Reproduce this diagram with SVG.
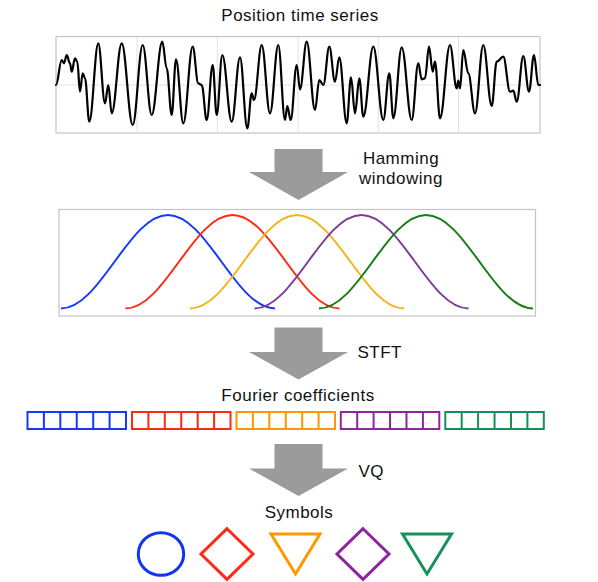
<svg xmlns="http://www.w3.org/2000/svg" xmlns:xlink="http://www.w3.org/1999/xlink" width="598" height="582" viewBox="0 0 598 582">
<style>
text{font-family:"Liberation Sans",Arial,Helvetica,sans-serif;font-size:17px;fill:#111;letter-spacing:0.5px}
.frame{fill:#fff;stroke:#c4c4c4;stroke-width:1.2}
.grid{stroke:#e2e2e2;stroke-width:1;fill:none}
.sig{fill:none;stroke:#000;stroke-width:2.2;stroke-linejoin:round;stroke-linecap:round}
.win{fill:none;stroke-width:2}
.arrow{fill:#9b9b9b}
.cells{fill:none;stroke:currentColor;stroke-width:2}
.sym{fill:none;stroke-width:3}
</style>
<defs>
<g id="cellrow" class="cells">
<rect x="0" y="0" width="98.5" height="17"/>
<path d="M16.4,0V17M32.8,0V17M49.25,0V17M65.7,0V17M82.1,0V17"/>
</g>
</defs>

<g id="title"><text x="300" y="21" text-anchor="middle">Position time series</text></g>

<g id="timeseries">
<rect class="frame" x="56" y="36.5" width="484" height="96.5"/>
<path class="grid" d="M137,37V133M217.3,37V133M298,37V133M378.3,37V133M458.5,37V133M56,85H540"/>
<path class="sig" d="M56,85 C58.2,85 59.5,60 61.7,60 C62.6,60 63.1,63.3 64,63.3 C65,63.3 65.7,55 66.7,55 C68,55 68.7,63.3 70,63.3 C70.6,63.3 71.1,71.7 71.7,71.7 C73,71.7 73.7,58.3 75,58.3 C75.9,58.3 76.4,61.7 77.3,61.7 C78.3,61.7 79,91.7 80,91.7 C81,91.7 81.7,73.3 82.7,73.3 C83.6,73.3 84.1,78.3 85,78.3 C86.6,78.3 87.7,121.7 89.3,121.7 C92.7,121.7 94.9,43.3 98.3,43.3 C100.8,43.3 102.5,103.3 105,103.3 C106.3,103.3 107,85 108.3,85 C109.6,85 110.4,113.3 111.7,113.3 C115.5,113.3 117.9,43.3 121.7,43.3 C125.9,43.3 128.5,125 132.7,125 C136.5,125 138.9,45 142.7,45 C146.1,45 148.3,115 151.7,115 C155.7,115 158.3,41.7 162.3,41.7 C164,41.7 165,68.3 166.7,68.3 C168.6,68.3 169.8,115 171.7,115 C173.3,115 174.4,59.3 176,59.3 C178.8,59.3 180.5,123.3 183.3,123.3 C186.9,123.3 189.1,46.7 192.7,46.7 C194.8,46.7 196.2,83.3 198.3,83.3 C199.6,83.3 200.4,85 201.7,85 C203.6,85 204.8,120 206.7,120 C209,120 210.4,65 212.7,65 C214.2,65 215.2,115 216.7,115 C218.8,115 220.2,55 222.3,55 C225.9,55 228.1,121.7 231.7,121.7 C234.9,121.7 236.8,57.3 240,57.3 C242.8,57.3 244.5,128.3 247.3,128.3 C249,128.3 250,93.3 251.7,93.3 C252.6,93.3 253.1,100 254,100 C256.9,100 258.8,45 261.7,45 C264.9,45 266.8,113.3 270,113.3 C273.2,113.3 275.1,45 278.3,45 C280.8,45 282.5,120 285,120 C285.9,120 286.4,106 287.3,106 C288.6,106 289.4,120 290.7,120 C293,120 294.4,65 296.7,65 C298,65 298.7,89.3 300,89.3 C302.5,89.3 304.2,41.7 306.7,41.7 C309.9,41.7 311.8,110 315,110 C316.6,110 317.7,80 319.3,80 C320.8,80 321.8,85 323.3,85 C325.6,85 327,46.7 329.3,46.7 C331.5,46.7 332.8,81.7 335,81.7 C336.6,81.7 337.7,57.3 339.3,57.3 C342.1,57.3 343.9,123.3 346.7,123.3 C348.3,123.3 349.4,77.3 351,77.3 C352.5,77.3 353.5,113.3 355,113.3 C356.6,113.3 357.7,78.3 359.3,78.3 C360.8,78.3 361.8,116.7 363.3,116.7 C367.1,116.7 369.5,46.7 373.3,46.7 C377.1,46.7 379.5,120 383.3,120 C385.6,120 387,73.3 389.3,73.3 C390.8,73.3 391.8,118.3 393.3,118.3 C396.5,118.3 398.5,47.3 401.7,47.3 C405.5,47.3 407.9,120 411.7,120 C414.2,120 415.8,63.3 418.3,63.3 C419.6,63.3 420.4,79.3 421.7,79.3 C423,79.3 423.7,78.3 425,78.3 C426.5,78.3 427.5,46.7 429,46.7 C430.4,46.7 431.3,71.7 432.7,71.7 C433.6,71.7 434.1,61.7 435,61.7 C436.9,61.7 438.1,118.3 440,118.3 C443.8,118.3 446.2,45 450,45 C452.5,45 454.2,88.3 456.7,88.3 C457.3,88.3 457.7,80.7 458.3,80.7 C458.9,80.7 459.4,88.3 460,88.3 C461.3,88.3 462,50 463.3,50 C465.2,50 466.4,73.3 468.3,73.3 C470.8,73.3 472.5,113.3 475,113.3 C478.2,113.3 480.1,45 483.3,45 C486.5,45 488.5,106 491.7,106 C493.6,106 494.8,61.7 496.7,61.7 C499.2,61.7 500.8,56.7 503.3,56.7 C505.8,56.7 507.5,91.7 510,91.7 C511.3,91.7 512,90.7 513.3,90.7 C514.6,90.7 515.4,101.7 516.7,101.7 C519.2,101.7 520.8,56 523.3,56 C525.5,56 526.8,91.7 529,91.7 C530.9,91.7 532.1,55 534,55 C535.6,55 536.7,85 538.3,85 L540,85"/>
</g>

<g id="connectors">
<polygon class="arrow" points="274.5,149 322.5,149 322.5,172 348,172 298.5,200 249,172 274.5,172"/>
<polygon class="arrow" points="274.5,327.5 322.5,327.5 322.5,352 348,352 298.5,379.5 249,352 274.5,352"/>
<polygon class="arrow" points="274.5,444 322.5,444 322.5,468.5 348,468.5 298.5,496 249,468.5 274.5,468.5"/>
</g>

<g id="label-hamming">
<text x="401" y="163.5" text-anchor="middle">Hamming</text>
<text x="401" y="183.5" text-anchor="middle">windowing</text>
</g>

<g id="windows">
<rect class="frame" x="59" y="209.5" width="476.5" height="106.5"/>
<path class="win" stroke="#1438ff" d="M61,308.5 C100,308.5 129,215 168,215 S236,308.5 275,308.5"/>
<path class="win" stroke="#ff2a14" d="M125.5,308.5 C164.5,308.5 193.5,215 232.5,215 S300.5,308.5 339.5,308.5"/>
<path class="win" stroke="#f2b418" d="M190,308.5 C229,308.5 258,215 297,215 S365,308.5 404,308.5"/>
<path class="win" stroke="#7d3c98" d="M254.5,308.5 C293.5,308.5 322.5,215 361.5,215 S429.5,308.5 468.5,308.5"/>
<path class="win" stroke="#147d14" d="M319,308.5 C358,308.5 387,215 426,215 S494,308.5 533,308.5"/>
</g>

<g id="label-stft"><text x="357.5" y="357.5">STFT</text></g>

<g id="label-fourier"><text x="298" y="400.5" text-anchor="middle">Fourier coefficients</text></g>

<g id="coefficients">
<use xlink:href="#cellrow" href="#cellrow" x="27.5" y="412" color="#1438ff"/>
<use xlink:href="#cellrow" href="#cellrow" x="132" y="412" color="#ff2a14"/>
<use xlink:href="#cellrow" href="#cellrow" x="236.5" y="412" color="#ff9800"/>
<use xlink:href="#cellrow" href="#cellrow" x="340.8" y="412" color="#8e24a0"/>
<use xlink:href="#cellrow" href="#cellrow" x="445.3" y="412" color="#16905a"/>
</g>

<g id="label-vq"><text x="358.5" y="477">VQ</text></g>

<g id="label-symbols"><text x="299" y="518" text-anchor="middle">Symbols</text></g>

<g id="symbols">
<ellipse class="sym" stroke="#1034f0" cx="161" cy="554" rx="22.7" ry="21.3"/>
<polygon class="sym" stroke="#ff2a14" points="227,528.7 253,554 227,579.3 201,554"/>
<polygon class="sym" stroke="#ff9800" points="271,534 320,534 295.5,574"/>
<polygon class="sym" stroke="#8e24a0" points="363,528.7 389,554 363,579.3 337,554"/>
<polygon class="sym" stroke="#16905a" points="402.5,534 451.5,534 427,574"/>
</g>
</svg>
